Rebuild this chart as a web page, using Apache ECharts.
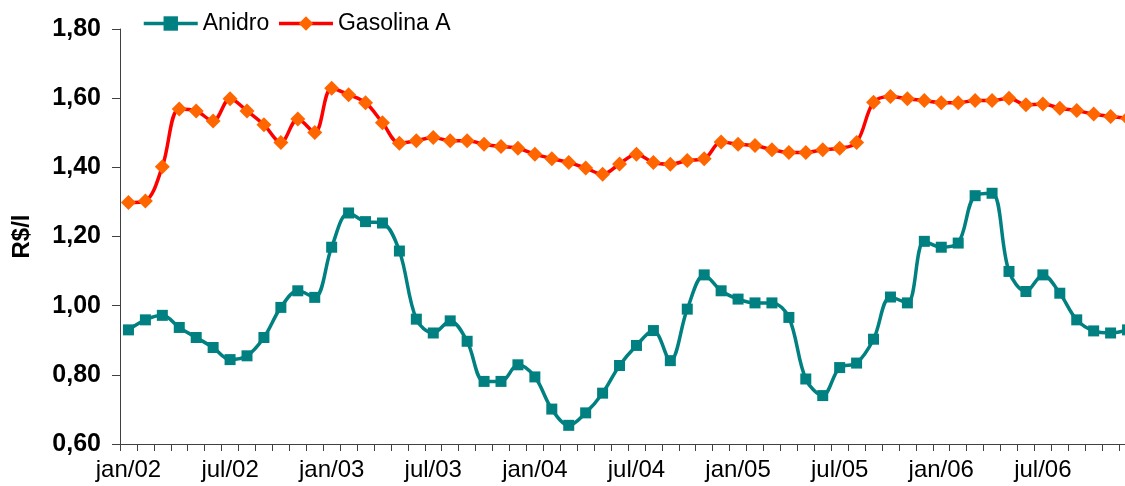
<!DOCTYPE html>
<html>
<head>
<meta charset="utf-8">
<script src="https://cdn.jsdelivr.net/npm/echarts@6/dist/echarts.min.js"></script>
<style>
html,body{margin:0;padding:0;overflow:hidden;background:#fff;}
#chart{width:1136px;height:486px;}
</style>
</head>
<body>
<div id="chart"></div>
<script>
const months = ["jan","fev","mar","abr","mai","jun","jul","ago","set","out","nov","dez"];
const years = ["02","03","04","05","06"];
const categories = [];
years.forEach(y => months.forEach(m => categories.push(m + "/" + y)));

const anidro = [
  0.930,0.959,0.972,0.937,0.908,0.879,0.844,0.855,0.908,0.995,1.043,1.024,
  1.169,1.268,1.243,1.239,1.158,0.961,0.921,0.956,0.897,0.781,0.781,0.829,
  0.794,0.701,0.654,0.690,0.747,0.827,0.885,0.928,0.841,0.990,1.089,1.043,
  1.019,1.008,1.008,0.966,0.788,0.740,0.821,0.834,0.903,1.025,1.008,1.186,
  1.169,1.181,1.318,1.325,1.099,1.041,1.089,1.036,0.959,0.927,0.921,0.930
];
const gasolinaA = [
  1.298,1.303,1.402,1.569,1.563,1.534,1.598,1.563,1.523,1.472,1.540,1.501,
  1.629,1.610,1.587,1.529,1.470,1.477,1.486,1.477,1.477,1.467,1.460,1.455,
  1.438,1.425,1.414,1.398,1.380,1.410,1.438,1.414,1.409,1.420,1.425,1.473,
  1.467,1.463,1.451,1.443,1.443,1.451,1.455,1.472,1.588,1.605,1.598,1.593,
  1.587,1.587,1.593,1.593,1.600,1.581,1.583,1.571,1.564,1.554,1.547,1.542
];
const yTicks = {min:0.6, max:1.8, interval:0.2};

const chart = echarts.init(document.getElementById('chart'), null, {renderer:'canvas'});
chart.setOption({
  animation:false,
  backgroundColor:'#ffffff',
  textStyle:{fontFamily:'Liberation Sans, Arial, sans-serif'},
  legend:{
    top:7, left:137,
    itemWidth:54, itemHeight:18, itemGap:8,
    lineStyle:{width:3.5},
    textStyle:{fontSize:23, color:'#000', fontFamily:'Liberation Sans, Arial, sans-serif'},
    data:['Anidro','Gasolina A']
  },
  grid:{left:120, right:0, top:29, bottom:42, containLabel:false},
  xAxis:{
    type:'category',
    data:categories,
    boundaryGap:true,
    axisLine:{show:true, lineStyle:{color:'#404040', width:1}},
    axisTick:{show:true, interval:0, length:7, lineStyle:{color:'#404040'}},
    axisLabel:{interval:5, fontSize:24, color:'#000', margin:14, fontFamily:'Liberation Sans, Arial, sans-serif'},
    splitLine:{show:false}
  },
  yAxis:{
    type:'value',
    min:yTicks.min, max:yTicks.max, interval:yTicks.interval,
    name:'R$/l',
    nameLocation:'middle',
    nameRotate:90,
    nameGap:86,
    nameTextStyle:{fontSize:24, fontWeight:'bold', color:'#000', fontFamily:'Liberation Sans, Arial, sans-serif'},
    axisLine:{show:true, lineStyle:{color:'#404040', width:1}},
    axisTick:{show:true, length:8, lineStyle:{color:'#404040'}},
    axisLabel:{fontSize:25, fontWeight:'bold', color:'#000', margin:19,
      fontFamily:'Liberation Sans, Arial, sans-serif',
      formatter:v => v.toFixed(2).replace('.', ',')},
    splitLine:{show:false}
  },
  series:[
    {
      name:'Anidro', type:'line', data:anidro,
      smooth:0.35, showAllSymbol:true,
      symbol:'rect', symbolSize:11,
      lineStyle:{color:'#008080', width:3.5},
      itemStyle:{color:'#008080'}
    },
    {
      name:'Gasolina A', type:'line', data:gasolinaA,
      smooth:0.35, showAllSymbol:true,
      symbol:'diamond', symbolSize:15,
      lineStyle:{color:'#FF0000', width:3.5},
      itemStyle:{color:'#FF6600'}
    }
  ]
});
</script>
</body>
</html>
